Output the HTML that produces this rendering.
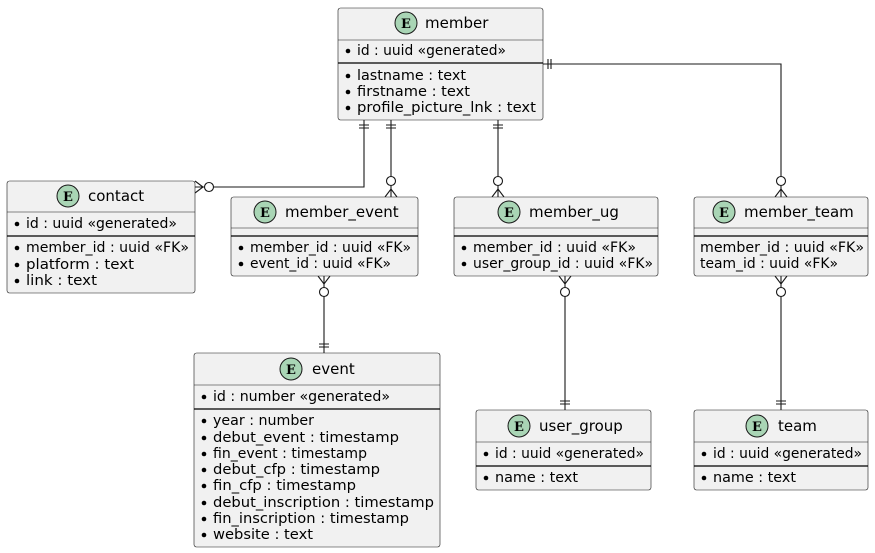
<!DOCTYPE html>
<html><head><meta charset="utf-8"><style>
html,body{margin:0;padding:0;background:#fff;width:875px;height:553px;overflow:hidden}
svg{display:block}
text{font-family:"DejaVu Sans","Liberation Sans",sans-serif;font-size:14.5px;fill:#000}
.t{font-size:15px}
.box{fill:#f1f1f1;stroke:#181818;stroke-width:0.6}
.sep{stroke:#181818;stroke-width:0.6}
.sep2{stroke:#000;stroke-width:1.2}
.ln{stroke:#181818;stroke-width:1.1;fill:none}
.ci{fill:#a9d5b5;stroke:#181818;stroke-width:1}
.E{font-family:"DejaVu Serif","Liberation Serif",serif;font-weight:bold;font-size:13px}
.o{fill:#fff;stroke:#181818;stroke-width:1.1}
</style></head><body>
<svg width="875" height="553" viewBox="0 0 875 553" xmlns="http://www.w3.org/2000/svg">
<path class="ln" d="M364,120 V187 H195"/>
<path class="ln" d="M391,120 V197"/>
<path class="ln" d="M498,120 V197"/>
<path class="ln" d="M543,64 H781 V197"/>
<path class="ln" d="M324,276 V353"/>
<path class="ln" d="M565,276 V410"/>
<path class="ln" d="M781,276 V410"/>
<path class="ln" d="M359,125 h10 M359,128 h10 M386,125 h10 M386,128 h10 M493,125 h10 M493,128 h10 M548,59 v10 M551,59 v10 M319,344 h10 M319,347 h10 M560,401 h10 M560,404 h10 M776,401 h10 M776,404 h10"/>
<path class="ln" d="M195,181 L203,187 L195,193"/>
<circle class="o" cx="209" cy="187" r="4.5"/>
<path class="ln" d="M385,197 L391,189 L397,197"/><circle class="o" cx="391" cy="181" r="4.5"/>
<path class="ln" d="M492,197 L498,189 L504,197"/><circle class="o" cx="498" cy="181" r="4.5"/>
<path class="ln" d="M775,197 L781,189 L787,197"/><circle class="o" cx="781" cy="181" r="4.5"/>
<path class="ln" d="M318,276 L324,284 L330,276"/><circle class="o" cx="324" cy="292" r="4.5"/>
<path class="ln" d="M559,276 L565,284 L571,276"/><circle class="o" cx="565" cy="292" r="4.5"/>
<path class="ln" d="M775,276 L781,284 L787,276"/><circle class="o" cx="781" cy="292" r="4.5"/>

<rect class="box" x="338" y="8" width="205" height="112" rx="2.5"/>
<circle class="ci" cx="406" cy="23" r="11"/><text class="E" x="401" y="28">E</text>
<text class="t" x="425" y="28">member</text>
<line class="sep" x1="338" y1="40" x2="543" y2="40"/>
<circle cx="348" cy="51" r="2.3"/><text x="357" y="55" textLength="149" lengthAdjust="spacingAndGlyphs">id : uuid «generated»</text>
<line class="sep2" x1="338" y1="63" x2="543" y2="63"/>
<circle cx="348" cy="76" r="2.3"/><text x="357" y="80" textLength="109" lengthAdjust="spacingAndGlyphs">lastname : text</text>
<circle cx="348" cy="92" r="2.3"/><text x="357" y="96" textLength="113" lengthAdjust="spacingAndGlyphs">firstname : text</text>
<circle cx="348" cy="108" r="2.3"/><text x="357" y="112" textLength="179" lengthAdjust="spacingAndGlyphs">profile_picture_lnk : text</text>

<rect class="box" x="7" y="181" width="188" height="112" rx="2.5"/>
<circle class="ci" cx="68" cy="196" r="11"/><text class="E" x="63" y="201">E</text>
<text class="t" x="88" y="201">contact</text>
<line class="sep" x1="7" y1="212" x2="195" y2="212"/>
<circle cx="17" cy="224" r="2.3"/><text x="26" y="228" textLength="151" lengthAdjust="spacingAndGlyphs">id : uuid «generated»</text>
<line class="sep2" x1="7" y1="236" x2="195" y2="236"/>
<circle cx="17" cy="248" r="2.3"/><text x="26" y="252" textLength="163" lengthAdjust="spacingAndGlyphs">member_id : uuid «FK»</text>
<circle cx="17" cy="265" r="2.3"/><text x="26" y="269" textLength="108" lengthAdjust="spacingAndGlyphs">platform : text</text>
<circle cx="17" cy="281" r="2.3"/><text x="26" y="285" textLength="71" lengthAdjust="spacingAndGlyphs">link : text</text>

<rect class="box" x="231" y="197" width="187" height="79" rx="2.5"/>
<circle class="ci" cx="265" cy="212" r="11"/><text class="E" x="260" y="217">E</text>
<text class="t" x="285" y="217">member_event</text>
<line class="sep" x1="231" y1="228" x2="418" y2="228"/>
<line class="sep2" x1="231" y1="236" x2="418" y2="236"/>
<circle cx="241" cy="248" r="2.3"/><text x="250" y="252" textLength="161" lengthAdjust="spacingAndGlyphs">member_id : uuid «FK»</text>
<circle cx="241" cy="264" r="2.3"/><text x="250" y="268" textLength="141" lengthAdjust="spacingAndGlyphs">event_id : uuid «FK»</text>

<rect class="box" x="454" y="197" width="204" height="79" rx="2.5"/>
<circle class="ci" cx="509" cy="212" r="11"/><text class="E" x="504" y="217">E</text>
<text class="t" x="529" y="217">member_ug</text>
<line class="sep" x1="454" y1="228" x2="658" y2="228"/>
<line class="sep2" x1="454" y1="236" x2="658" y2="236"/>
<circle cx="464" cy="248" r="2.3"/><text x="473" y="252" textLength="163" lengthAdjust="spacingAndGlyphs">member_id : uuid «FK»</text>
<circle cx="464" cy="264" r="2.3"/><text x="473" y="268" textLength="180" lengthAdjust="spacingAndGlyphs">user_group_id : uuid «FK»</text>

<rect class="box" x="694" y="197" width="174" height="79" rx="2.5"/>
<circle class="ci" cx="724" cy="212" r="11"/><text class="E" x="719" y="217">E</text>
<text class="t" x="744" y="217">member_team</text>
<line class="sep" x1="694" y1="228" x2="868" y2="228"/>
<line class="sep2" x1="694" y1="236" x2="868" y2="236"/>
<text x="700" y="252" textLength="164" lengthAdjust="spacingAndGlyphs">member_id : uuid «FK»</text>
<text x="700" y="268" textLength="138" lengthAdjust="spacingAndGlyphs">team_id : uuid «FK»</text>

<rect class="box" x="194" y="353" width="246" height="194" rx="2.5"/>
<circle class="ci" cx="291" cy="369" r="11"/><text class="E" x="286" y="374">E</text>
<text class="t" x="312" y="374">event</text>
<line class="sep" x1="194" y1="385" x2="440" y2="385"/>
<circle cx="204" cy="397" r="2.3"/><text x="213" y="401" textLength="177" lengthAdjust="spacingAndGlyphs">id : number «generated»</text>
<line class="sep2" x1="194" y1="409" x2="440" y2="409"/>
<circle cx="204" cy="421" r="2.3"/><text x="213" y="425" textLength="101" lengthAdjust="spacingAndGlyphs">year : number</text>
<circle cx="204" cy="438" r="2.3"/><text x="213" y="442" textLength="186" lengthAdjust="spacingAndGlyphs">debut_event : timestamp</text>
<circle cx="204" cy="454" r="2.3"/><text x="213" y="458" textLength="154" lengthAdjust="spacingAndGlyphs">fin_event : timestamp</text>
<circle cx="204" cy="470" r="2.3"/><text x="213" y="474" textLength="167" lengthAdjust="spacingAndGlyphs">debut_cfp : timestamp</text>
<circle cx="204" cy="486" r="2.3"/><text x="213" y="490" textLength="143" lengthAdjust="spacingAndGlyphs">fin_cfp : timestamp</text>
<circle cx="204" cy="503" r="2.3"/><text x="213" y="507" textLength="221" lengthAdjust="spacingAndGlyphs">debut_inscription : timestamp</text>
<circle cx="204" cy="519" r="2.3"/><text x="213" y="523" textLength="196" lengthAdjust="spacingAndGlyphs">fin_inscription : timestamp</text>
<circle cx="204" cy="535" r="2.3"/><text x="213" y="539" textLength="100" lengthAdjust="spacingAndGlyphs">website : text</text>

<rect class="box" x="476" y="410" width="175" height="80" rx="2.5"/>
<circle class="ci" cx="519" cy="426" r="11"/><text class="E" x="514" y="431">E</text>
<text class="t" x="539" y="431">user_group</text>
<line class="sep" x1="476" y1="442" x2="651" y2="442"/>
<circle cx="486" cy="454" r="2.3"/><text x="495" y="458" textLength="149" lengthAdjust="spacingAndGlyphs">id : uuid «generated»</text>
<line class="sep2" x1="476" y1="466" x2="651" y2="466"/>
<circle cx="486" cy="478" r="2.3"/><text x="495" y="482" textLength="83" lengthAdjust="spacingAndGlyphs">name : text</text>

<rect class="box" x="694" y="410" width="174" height="80" rx="2.5"/>
<circle class="ci" cx="757" cy="426" r="11"/><text class="E" x="752" y="431">E</text>
<text class="t" x="778" y="431">team</text>
<line class="sep" x1="694" y1="442" x2="868" y2="442"/>
<circle cx="704" cy="454" r="2.3"/><text x="713" y="458" textLength="149" lengthAdjust="spacingAndGlyphs">id : uuid «generated»</text>
<line class="sep2" x1="694" y1="466" x2="868" y2="466"/>
<circle cx="704" cy="478" r="2.3"/><text x="713" y="482" textLength="83" lengthAdjust="spacingAndGlyphs">name : text</text>
</svg>
</body></html>
